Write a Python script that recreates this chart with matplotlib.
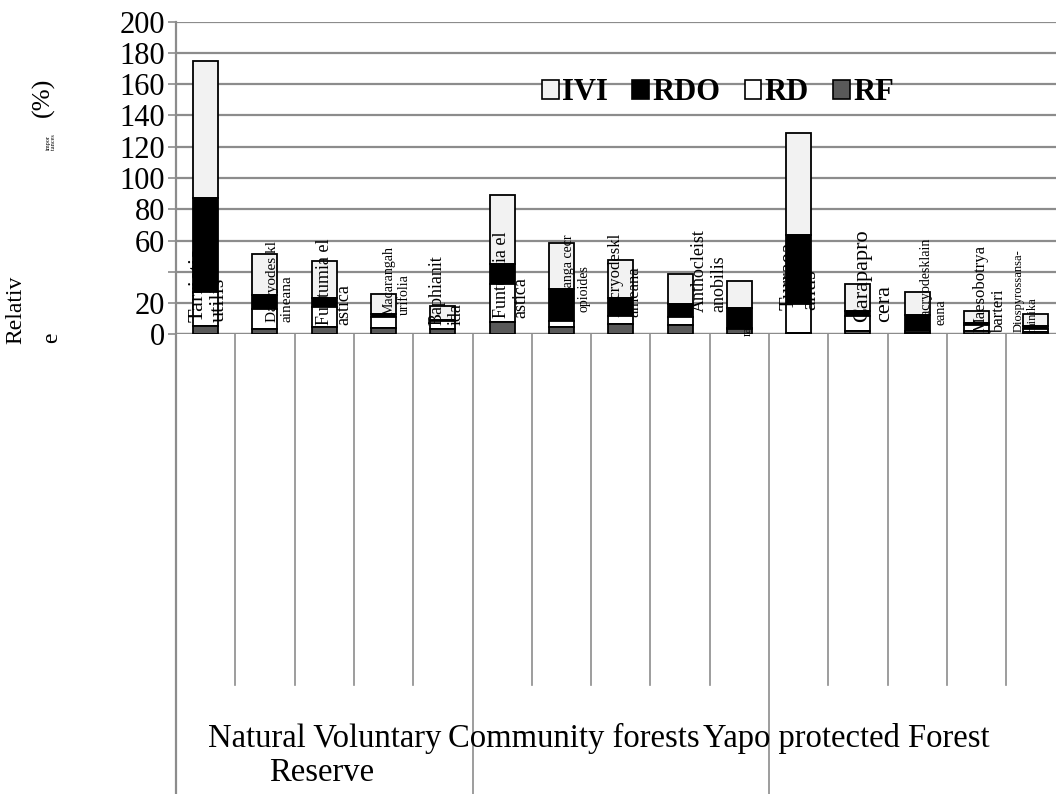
import matplotlib.pyplot as plt
from matplotlib.patches import Patch

plt.rcParams['font.family'] = ['Liberation Serif', 'DejaVu Serif']

# species labels (as they appear, wrapped over two lines)
species = ['Tarrietia\nutilis', 'Dacryodes kl\naineana', 'Funtumia el\nastica',
           'Macarangah\nurifolia', 'Baphianit\nida', 'Funtumia el\nastica',
           'Musanga cecr\nopioides', 'Dacryodeskl\naineana', 'Anthocleist\nanobilis',
           'ra', 'Turraea\nanus', 'Carapapro\ncera',
           'Dacryodesklain\neana', 'Maesobotrya\nbarteri', 'Diospyrossansa-\nminika']
groups = ['Natural Voluntary\nReserve', 'Community forests', 'Yapo protected Forest']

# stacked components (%), bottom to top
rf = [5.3, 3.4, 4.9, 4.2, 3.5, 8.1, 4.9, 6.4, 6.2, 3.1, 1.0, 1.8, 0.7, 1.8, 1.4]
rd = [21.6, 12.8, 12.4, 6.7, 5.2, 24.1, 3.4, 5.3, 4.8, 1.2, 18.1, 9.7, 1.5, 4.0, 2.1]
rdo = [60.5, 9.1, 5.7, 1.9, 0.5, 12.6, 20.7, 11.8, 8.1, 12.7, 44.6, 3.5, 10.4, 1.3, 1.8]
ivi = [87.5, 26.1, 23.9, 13.0, 9.1, 44.5, 29.6, 24.3, 19.6, 17.2, 64.8, 17.3, 14.3, 7.9, 7.8]

# label styling: font size, x shift (px), bottom (px from top of image)
lab_size = [16, 11, 13, 10, 13, 13, 10, 12, 13, 9, 16, 16, 10, 12, 9]
lab_dx = [3, 15, 10, 13, 4, 9, 15, 4, 29, 8, 1, 16, 16, 13, -10]
lab_bot = [322, 322, 325, 315, 325, 318, 312, 317, 312, 336, 310, 322, 325, 332, 332]

W, H = 1056, 794
fig = plt.figure(figsize=(W / 100, H / 100), dpi=100)
x0, x1 = 176, 1065.5
ytop, ybase = 21.7, 334.3
ax = fig.add_axes([x0 / W, (H - ybase) / H, (x1 - x0) / W, (ybase - ytop) / H])

slot = (x1 - x0) / 15
ppu = (ybase - ytop) / 200.0
grid_c = '#8c8c8c'

x = list(range(15))
b1 = [a + b for a, b in zip(rf, rd)]
b2 = [a + b for a, b in zip(b1, rdo)]
kw = dict(width=0.42, edgecolor='black', linewidth=1.3, zorder=3)
h_ivi = ax.bar(x, ivi, bottom=b2, color='#f2f2f2', label='IVI', **kw)
h_rdo = ax.bar(x, rdo, bottom=b1, color='black', label='RDO', **kw)
h_rd = ax.bar(x, rd, bottom=rf, color='white', label='RD', **kw)
h_rf = ax.bar(x, rf, color='#595959', label='RF', **kw)

ax.set_xlim(-0.5, 14.5)
ax.set_ylim(0, 200)
ax.set_yticks(range(0, 201, 20))
ax.set_yticklabels(['' if v == 40 else str(v) for v in range(0, 201, 20)], fontsize=22)
ax.tick_params(axis='y', length=6, width=1.2, color=grid_c, pad=2)
ax.set_xticks([])
ax.yaxis.grid(True, color=grid_c, linewidth=1.6, zorder=0)
ax.set_axisbelow(True)
for s in ['top', 'right', 'bottom', 'left']:
    ax.spines[s].set_visible(False)
ax.axhline(0, color=grid_c, linewidth=1.6, zorder=1)

# category separators below the axis
trans = ax.get_xaxis_transform()
for k in range(16):
    xs = k - 0.5
    low = -1.5 if k in (0, 5, 10) else -1.122
    ax.plot([xs, xs], [1.0 if k == 0 else 0, low], transform=trans, color=grid_c,
            linewidth=1.2 if k else 1.6, clip_on=False, zorder=1)

# species labels drawn over the bars
for i, name in enumerate(species):
    ax.text(i + lab_dx[i] / slot, (ybase - lab_bot[i]) / ppu, name, rotation=90,
            ha='center', va='bottom', multialignment='left', fontsize=lab_size[i],
            linespacing=1.2, zorder=5)

# group labels
gsize = 23.5
fig.text(325 / W, 1 - 747 / H, 'Natural Voluntary', ha='center', va='baseline', fontsize=gsize)
fig.text(322 / W, 1 - 781 / H, 'Reserve', ha='center', va='baseline', fontsize=gsize)
fig.text(574 / W, 1 - 747 / H, groups[1], ha='center', va='baseline', fontsize=gsize)
fig.text(846 / W, 1 - 747 / H, groups[2], ha='center', va='baseline', fontsize=gsize)

# broken y-axis title
fig.text(16 / W, 1 - 310 / H, 'Relativ', rotation=90, ha='center', va='center', fontsize=17)
fig.text(52 / W, 1 - 338 / H, 'e', rotation=90, ha='center', va='center', fontsize=17)
fig.text(43 / W, 1 - 97 / H, '(%)', rotation=90, ha='center', va='center', fontsize=19)
fig.text(51 / W, 1 - 142 / H, 'impor\ntances', rotation=90, ha='center', va='center',
         fontsize=4.5, linespacing=1.1)

handles = [Patch(facecolor='#f2f2f2', edgecolor='black', linewidth=1.2),
           Patch(facecolor='black', edgecolor='black', linewidth=1.2),
           Patch(facecolor='white', edgecolor='black', linewidth=1.2),
           Patch(facecolor='#595959', edgecolor='black', linewidth=1.2)]
fig.legend(handles, ['IVI', 'RDO', 'RD', 'RF'], ncol=4, loc='center',
           bbox_to_anchor=(718 / W, 1 - 93 / H), frameon=False,
           prop={'weight': 'bold', 'size': 22}, handlelength=0.55, handleheight=0.55,
           handletextpad=0.1, columnspacing=0.8, borderpad=0)

fig.savefig('out.png', dpi=100)
